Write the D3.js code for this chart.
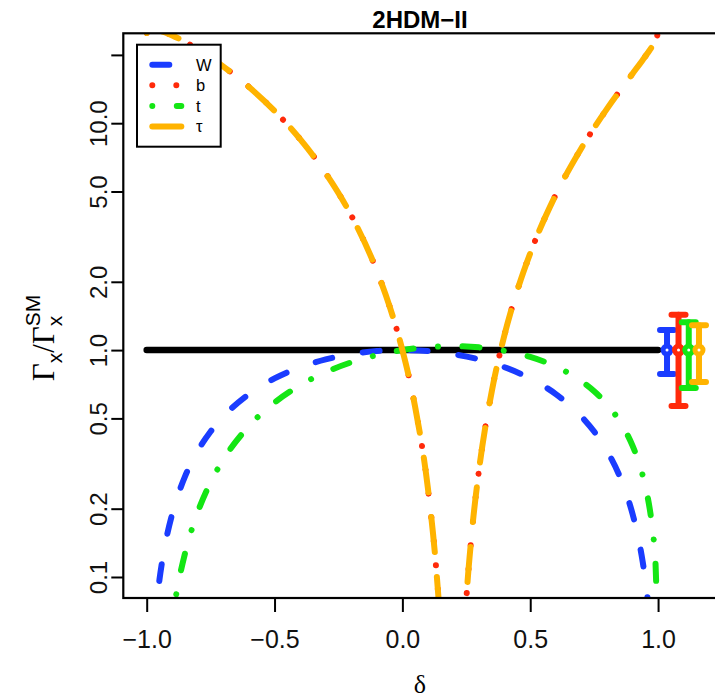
<!DOCTYPE html>
<html>
<head>
<meta charset="utf-8">
<script src="https://cdn.jsdelivr.net/npm/d3@7"></script>
<style>
  body { margin: 0; background: #fff; }
  svg { display: block; }
</style>
</head>
<body>
<svg id="chart" width="715" height="700"></svg>
<script>
// Decay-width ratios Γ_x / Γ_x^SM versus δ (2HDM type II)
const deltaW = [-0.97, -0.96, -0.95, -0.94, -0.92, -0.90, -0.88, -0.85, -0.80, -0.75, -0.70, -0.60, -0.50, -0.40, -0.30, -0.20, -0.10, 0, 0.10, 0.20, 0.30, 0.40, 0.50, 0.60, 0.70, 0.75, 0.80, 0.85, 0.88, 0.90, 0.92, 0.94, 0.95, 0.96, 0.97];
const ratioW = [0.0591, 0.0784, 0.0975, 0.1164, 0.1536, 0.19, 0.2256, 0.2775, 0.36, 0.4375, 0.51, 0.64, 0.75, 0.84, 0.91, 0.96, 0.99, 1, 0.99, 0.96, 0.91, 0.84, 0.75, 0.64, 0.51, 0.4375, 0.36, 0.2775, 0.2256, 0.19, 0.1536, 0.1164, 0.0975, 0.0784, 0.0591];

const deltaT = [-0.92, -0.90, -0.88, -0.85, -0.80, -0.75, -0.70, -0.60, -0.50, -0.40, -0.30, -0.20, -0.10, 0, 0.10, 0.20, 0.30, 0.40, 0.50, 0.60, 0.70, 0.75, 0.80, 0.85, 0.88, 0.90, 0.92, 0.94, 0.95, 0.96, 0.97, 0.98, 0.99, 1.00];
const ratioT = [0.0432, 0.0655, 0.0894, 0.1273, 0.1936, 0.2616, 0.3296, 0.4624, 0.5868, 0.6998, 0.7991, 0.8832, 0.9506, 1, 1.0302, 1.0400, 1.0281, 0.9931, 0.9332, 0.8464, 0.7296, 0.6584, 0.5776, 0.4855, 0.4238, 0.3793, 0.3317, 0.2800, 0.2523, 0.2228, 0.1911, 0.1560, 0.1150, 0.04];

const deltaB = [-1.00, -0.98, -0.96, -0.94, -0.92, -0.90, -0.85, -0.80, -0.75, -0.70, -0.60, -0.50, -0.40, -0.30, -0.20, -0.10, -0.05, 0, 0.05, 0.10, 0.13, 0.15, 0.17, 0.19, 0.20, 0.22, 0.25, 0.27, 0.30, 0.35, 0.40, 0.45, 0.50, 0.60, 0.70, 0.80, 0.85, 0.90, 0.94, 0.96, 0.98, 0.99, 1.00];
const ratioB = [25.0, 26.0, 25.81, 25.41, 24.92, 24.36, 22.82, 21.16, 19.46, 17.76, 14.44, 11.33, 8.506, 6.022, 3.920, 2.235, 1.559, 1, 0.5606, 0.2450, 0.1166, 0.05697, 0.01834, 0.00101, 0.000408, 0.0155, 0.0794, 0.1499, 0.2982, 0.6614, 1.174, 1.841, 2.670, 4.84, 7.761, 11.56, 13.86, 16.52, 19.00, 20.43, 22.10, 23.13, 25.0];

const deltaTau = [-1.00, -0.98, -0.96, -0.94, -0.92, -0.90, -0.85, -0.80, -0.75, -0.70, -0.60, -0.50, -0.40, -0.30, -0.20, -0.10, -0.05, 0, 0.05, 0.10, 0.13, 0.15, 0.17, 0.19, 0.20, 0.22, 0.25, 0.27, 0.30, 0.35, 0.40, 0.45, 0.50, 0.60, 0.70, 0.80, 0.85, 0.90, 0.94, 0.96, 0.98, 0.99, 1.00];
const ratioTau = [25.0, 26.0, 25.81, 25.41, 24.92, 24.36, 22.82, 21.16, 19.46, 17.76, 14.44, 11.33, 8.506, 6.022, 3.920, 2.235, 1.559, 1, 0.5606, 0.2450, 0.1166, 0.05697, 0.01834, 0.00101, 0.000408, 0.0155, 0.0794, 0.1499, 0.2982, 0.6614, 1.174, 1.841, 2.670, 4.84, 7.761, 11.56, 13.86, 16.52, 19.00, 20.43, 22.10, 23.13, 25.0];

// SM reference line
const smDelta = [-1, 1];
const smRatio = [1, 1];

// Measured ratios with uncertainties, placed right of δ = 1
const barNames = ["W", "b", "t", "τ"];
const barDelta = [1.035, 1.08, 1.12, 1.16];
const barMid   = [1, 1, 1, 1];
const barLow   = [0.784, 0.567, 0.68, 0.723];
const barHigh  = [1.225, 1.43, 1.328, 1.288];

const seriesNames = ["W", "b", "t", "τ"];
const seriesColors = ["#1a3cff", "#ff2a0a", "#14e614", "#ffb300"];

const xTicks = [-1, -0.5, 0, 0.5, 1];
const xTickLabels = ["\u22121.0", "\u22120.5", "0.0", "0.5", "1.0"];
const yTicks = [0.1, 0.2, 0.5, 1, 2, 5, 10, 20];
const yTickLabels = ["0.1", "0.2", "0.5", "1.0", "2.0", "5.0", "10.0", ""];

// ---- layout ----
const plot = { left: 123.3, right: 716.7, top: 33.3, bottom: 598 };
const svg = d3.select("#chart");
const sans = "'Liberation Sans', Arial, Helvetica, sans-serif";
const serif = "'Liberation Serif', 'Times New Roman', serif";

const x = d3.scaleLinear().domain([-1.0915, 1.2293]).range([plot.left, plot.right]);
const y = d3.scaleLog().domain([0.0808, 24.9]).range([plot.bottom, plot.top]);

svg.append("clipPath").attr("id", "plotClip")
  .append("rect")
  .attr("x", plot.left).attr("y", plot.top)
  .attr("width", plot.right - plot.left).attr("height", plot.bottom - plot.top);

const gPlot = svg.append("g").attr("clip-path", "url(#plotClip)");

const line = d3.line()
  .x(d => x(d[0]))
  .y(d => y(d[1]))
  .curve(d3.curveMonotoneX);

const LW = 6;

// SM line
gPlot.append("path")
  .attr("d", line(d3.zip(smDelta, smRatio)))
  .attr("fill", "none").attr("stroke", "#000")
  .attr("stroke-width", 6.5).attr("stroke-linecap", "round");

const dashes = ["17,31", "0.01,24", "0.01,24.5,17,24.5", "35,25"];
const seriesData = [
  d3.zip(deltaW, ratioW),
  d3.zip(deltaB, ratioB),
  d3.zip(deltaT, ratioT),
  d3.zip(deltaTau, ratioTau)
];

seriesData.forEach((pts, i) => {
  gPlot.append("path")
    .attr("d", line(pts))
    .attr("fill", "none")
    .attr("stroke", seriesColors[i])
    .attr("stroke-width", LW)
    .attr("stroke-linecap", "round")
    .attr("stroke-linejoin", "round")
    .attr("stroke-dasharray", dashes[i]);
});

// error bars with open markers
const capHalf = 7;
barNames.forEach((n, i) => {
  const g = gPlot.append("g")
    .attr("stroke", seriesColors[i]).attr("stroke-width", LW)
    .attr("stroke-linecap", "round").attr("fill", "none");
  const cx = x(barDelta[i]);
  g.append("line").attr("x1", cx).attr("x2", cx)
    .attr("y1", y(barLow[i])).attr("y2", y(barHigh[i]));
  g.append("line").attr("x1", cx - capHalf).attr("x2", cx + capHalf)
    .attr("y1", y(barLow[i])).attr("y2", y(barLow[i]));
  g.append("line").attr("x1", cx - capHalf).attr("x2", cx + capHalf)
    .attr("y1", y(barHigh[i])).attr("y2", y(barHigh[i]));
  g.append("circle").attr("cx", cx).attr("cy", y(barMid[i]))
    .attr("r", 4).attr("fill", "#fff").attr("stroke-width", 5);
});

// frame
svg.append("rect")
  .attr("x", plot.left).attr("y", plot.top)
  .attr("width", plot.right - plot.left).attr("height", plot.bottom - plot.top)
  .attr("fill", "none").attr("stroke", "#000").attr("stroke-width", 2.2);

// x axis
const xAxis = svg.append("g")
  .attr("transform", `translate(0,${plot.bottom})`)
  .call(d3.axisBottom(x).tickValues(xTicks).tickSize(14).tickSizeOuter(0)
        .tickFormat((d, i) => xTickLabels[i]));
xAxis.select(".domain").remove();
xAxis.selectAll(".tick line").attr("stroke", "#000").attr("stroke-width", 2);
xAxis.selectAll(".tick text")
  .attr("y", 50).attr("dy", null)
  .attr("font-family", sans).attr("font-size", 25).attr("fill", "#111");

// y axis
const yAxis = svg.append("g")
  .attr("transform", `translate(${plot.left},0)`)
  .call(d3.axisLeft(y).tickValues(yTicks).tickSize(12).tickSizeOuter(0)
        .tickFormat((d, i) => yTickLabels[i]));
yAxis.select(".domain").remove();
yAxis.selectAll(".tick line").attr("stroke", "#000").attr("stroke-width", 2);
yAxis.selectAll(".tick text")
  .attr("x", 0).attr("y", -16).attr("dy", null)
  .attr("transform", "rotate(-90)")
  .attr("text-anchor", "middle")
  .attr("font-family", sans).attr("font-size", 24).attr("fill", "#111");

// title
svg.append("text")
  .attr("x", 420).attr("y", 28)
  .attr("text-anchor", "middle")
  .attr("font-family", sans).attr("font-weight", "bold").attr("font-size", 24)
  .text("2HDM\u2212II");

// x label
svg.append("text")
  .attr("x", 420).attr("y", 693)
  .attr("text-anchor", "middle")
  .attr("font-family", serif).attr("font-size", 26)
  .text("δ");

// y label: Γ_x / Γ_x^SM, centred along the axis
const yl = svg.append("g");
const gammaSize = 31, subSize = 21;
let u = 0;
function piece(txt, font, size, dy, advance) {
  const t = yl.append("text").attr("x", u).attr("y", dy)
    .attr("font-family", font).attr("font-size", size).text(txt);
  if (advance) u += t.node().getComputedTextLength();
  return t;
}
piece("Γ", serif, gammaSize, 0, true);
piece("x", sans, subSize, 8, true);
piece("/", serif, gammaSize, 0, true);
piece("Γ", serif, gammaSize, 0, true);
piece("x", sans, subSize, 8, false);
piece("SM", sans, subSize, -14, true);
yl.attr("transform", `translate(54,${338 + u / 2}) rotate(-90)`);

// legend
const lg = svg.append("g");
lg.append("rect")
  .attr("x", 137).attr("y", 44.7).attr("width", 83.7).attr("height", 102)
  .attr("fill", "#fff").attr("stroke", "#000").attr("stroke-width", 2);
const legendY = [64.7, 85.3, 106, 126.4];
seriesNames.forEach((n, i) => {
  lg.append("line")
    .attr("x1", 152.3).attr("x2", 181.3)
    .attr("y1", legendY[i]).attr("y2", legendY[i])
    .attr("stroke", seriesColors[i]).attr("stroke-width", LW)
    .attr("stroke-linecap", "round")
    .attr("stroke-dasharray", dashes[i]);
  lg.append("text")
    .attr("x", 196).attr("y", legendY[i] + 6)
    .attr("font-family", sans).attr("font-size", 16.5)
    .text(n);
});
</script>
</body>
</html>
